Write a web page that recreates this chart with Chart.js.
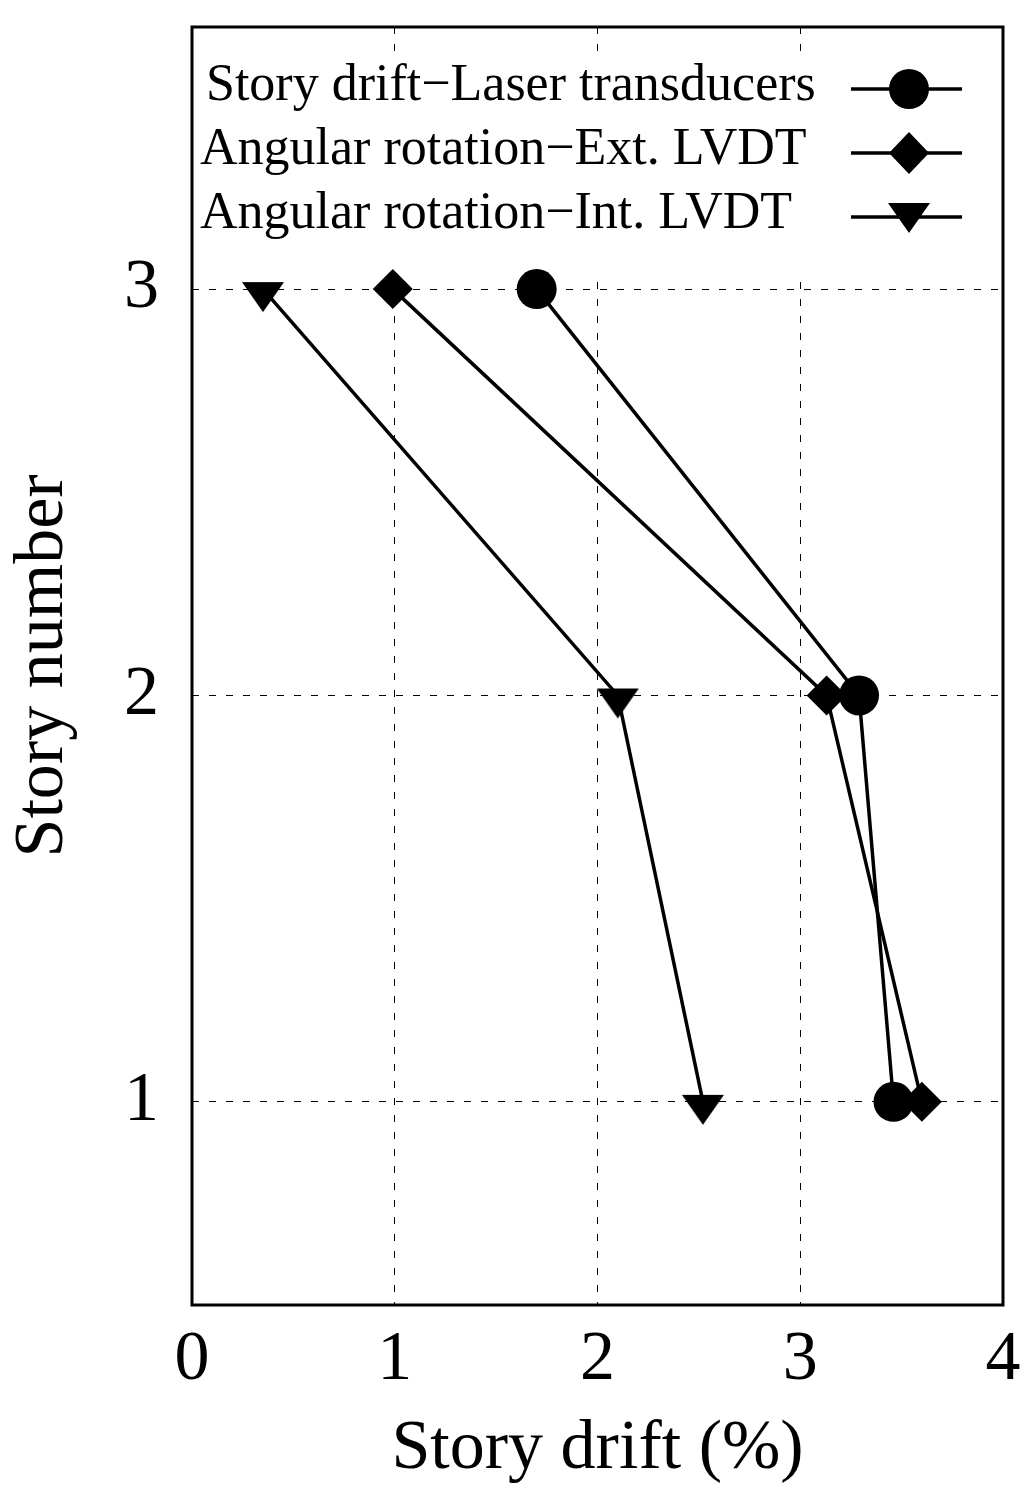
<!DOCTYPE html>
<html>
<head>
<meta charset="utf-8">
<title>Story drift</title>
<script src="https://cdn.jsdelivr.net/npm/chart.js@4.4.1/dist/chart.umd.min.js"></script>
<style>
  html, body { margin: 0; padding: 0; background: #fff; }
</style>
</head>
<body>
<canvas id="driftChart" width="1030" height="1498"></canvas>
<script>
// Story drift profile chart

const storyLevels = [3, 2, 1];
const laserDrift = [1.70, 3.29, 3.46];
const extLvdtDrift = [0.99, 3.13, 3.60];
const intLvdtDrift = [0.35, 2.10, 2.52];

const seriesLabels = [
  'Story drift\u2212Laser transducers',
  'Angular rotation\u2212Ext. LVDT',
  'Angular rotation\u2212Int. LVDT'
];
const xTicks = [0, 1, 2, 3, 4];
const yTicks = [1, 2, 3];
const xTitle = 'Story drift (%)';
const yTitle = 'Story number';

const SERIF = "'Liberation Serif', 'Times New Roman', serif";

function toPoints(values) {
  return values.map((v, i) => ({ x: v, y: storyLevels[i] }));
}

// Downward triangle, sits a little below its data point like the original
function makeTriangle() {
  const c = document.createElement('canvas');
  c.width = 44;
  c.height = 60;
  const g = c.getContext('2d');
  g.fillStyle = '#000';
  g.beginPath();
  g.moveTo(1, 23);
  g.lineTo(43, 23);
  g.lineTo(22, 53);
  g.closePath();
  g.fill();
  return c;
}
const triangleDown = makeTriangle();

// Key drawn inside the plot: text on the left, line + marker on the right
const keyPlugin = {
  id: 'storyKey',
  beforeDatasetsDraw(chart) {
    const { ctx, chartArea: a } = chart;
    ctx.save();
    ctx.fillStyle = '#fff';
    ctx.fillRect(a.left + 2, 52, a.right - a.left - 4, 228);
    ctx.restore();
  },
  afterDatasetsDraw(chart) {
    const { ctx, chartArea: a } = chart;
    ctx.save();

    // frame
    ctx.strokeStyle = '#000';
    ctx.lineWidth = 3;
    ctx.strokeRect(a.left, a.top, a.right - a.left, a.bottom - a.top);

    const rowY = [89, 153, 217];
    const markX = a.right - 94;
    ctx.font = '52px ' + SERIF;
    ctx.fillStyle = '#000';
    ctx.textAlign = 'left';
    ctx.textBaseline = 'alphabetic';

    seriesLabels.forEach((label, i) => {
      const y = rowY[i];
      ctx.fillText(label, a.left + (i === 0 ? 14 : 8), y + 11);

      ctx.beginPath();
      ctx.lineWidth = 3.5;
      ctx.moveTo(a.right - 152, y);
      ctx.lineTo(a.right - 41, y);
      ctx.stroke();

      ctx.beginPath();
      if (i === 0) {
        ctx.arc(markX, y, 20, 0, Math.PI * 2);
      } else if (i === 1) {
        ctx.moveTo(markX, y - 21);
        ctx.lineTo(markX + 20, y);
        ctx.lineTo(markX, y + 21);
        ctx.lineTo(markX - 20, y);
        ctx.closePath();
      } else {
        ctx.moveTo(markX - 21, y - 14);
        ctx.lineTo(markX + 21, y - 14);
        ctx.lineTo(markX, y + 16);
        ctx.closePath();
      }
      ctx.fill();
    });

    ctx.restore();
  }
};

const lineStyle = {
  borderColor: '#000',
  backgroundColor: '#000',
  borderWidth: 3.5,
  showLine: true,
  pointBorderWidth: 0,
  pointBackgroundColor: '#000',
  tension: 0
};

const tickFont = { family: SERIF, size: 70 };

new Chart(document.getElementById('driftChart'), {
  type: 'scatter',
  data: {
    datasets: [
      { ...lineStyle, label: seriesLabels[0], data: toPoints(laserDrift), pointStyle: 'circle', pointRadius: 20 },
      { ...lineStyle, label: seriesLabels[1], data: toPoints(extLvdtDrift), pointStyle: 'rectRot', pointRadius: 20 },
      { ...lineStyle, label: seriesLabels[2], data: toPoints(intLvdtDrift), pointStyle: triangleDown, pointRadius: 22 }
    ]
  },
  options: {
    responsive: false,
    devicePixelRatio: 1,
    animation: false,
    layout: { padding: { top: 27, right: 27, left: 0, bottom: 0 } },
    plugins: {
      legend: { display: false },
      tooltip: { enabled: false }
    },
    scales: {
      x: {
        type: 'linear',
        position: 'bottom',
        min: 0,
        max: 4,
        afterBuildTicks: s => { s.ticks = xTicks.map(v => ({ value: v })); },
        afterFit: s => {
          s.height = 193;
          s.paddingLeft = 0;
          s.paddingRight = 0;
        },
        grid: { color: '#000', lineWidth: 1, drawTicks: false },
        border: { display: false, dash: [7, 10] },
        ticks: { color: '#000', font: tickFont, padding: 14, maxRotation: 0 },
        title: {
          display: true,
          text: xTitle,
          color: '#000',
          font: { family: SERIF, size: 70 },
          padding: { top: 0, bottom: 6 }
        }
      },
      y: {
        type: 'linear',
        position: 'left',
        min: 0.5,
        max: 3.645,
        afterBuildTicks: s => { s.ticks = yTicks.map(v => ({ value: v })); },
        afterFit: s => {
          s.width = 192;
          s.paddingTop = 0;
          s.paddingBottom = 0;
        },
        grid: { color: '#000', lineWidth: 1, drawTicks: false },
        border: { display: false, dash: [7, 10] },
        ticks: { color: '#000', font: tickFont, padding: 33 },
        title: {
          display: true,
          text: yTitle,
          color: '#000',
          font: { family: SERIF, size: 70 },
          padding: { top: 2, bottom: 0 }
        }
      }
    }
  },
  plugins: [keyPlugin]
});
</script>
</body>
</html>
